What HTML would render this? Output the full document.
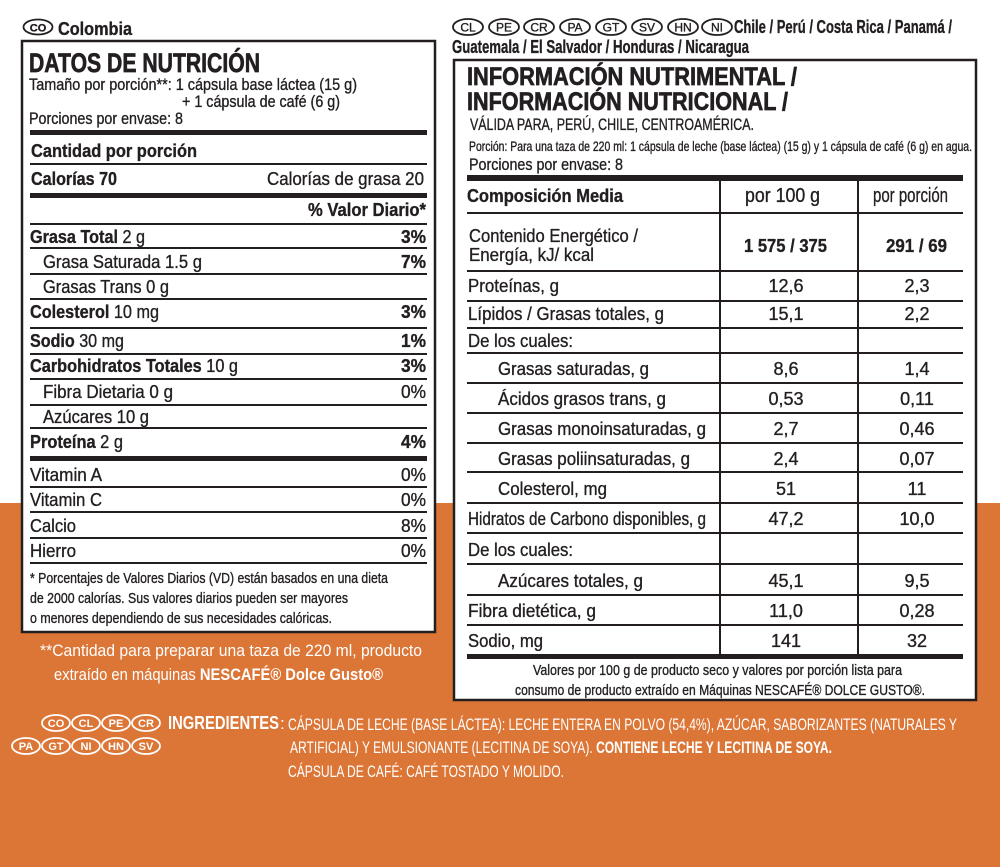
<!DOCTYPE html>
<html><head><meta charset="utf-8"><style>
html,body{margin:0;padding:0;background:#fff}
svg{display:block}
text{font-family:"Liberation Sans",sans-serif;fill:#231f20;stroke:#231f20;stroke-width:0.35}
.b{font-weight:bold}
.h{stroke-width:0.7}
.w{fill:#fff;stroke:none}
</style></head><body>
<svg width="1000" height="867" viewBox="0 0 1000 867" xmlns="http://www.w3.org/2000/svg">
<rect x="0" y="0" width="1000" height="867" fill="#fff"/>
<rect x="0" y="503" width="1000" height="364" fill="#dc7637"/>

<!-- LEFT -->
<ellipse cx="38" cy="27" rx="14.5" ry="7.5" fill="none" stroke="#231f20" stroke-width="1.8"/>
<text x="38" y="31.5" font-size="11" text-anchor="middle" class="b">CO</text>
<text x="58" y="35" font-size="18" class="b" textLength="74" lengthAdjust="spacingAndGlyphs">Colombia</text>

<rect x="22" y="41" width="413" height="591" fill="#fff" stroke="#231f20" stroke-width="2.5"/>
<text x="29" y="72" font-size="27" class="b h" textLength="231" lengthAdjust="spacingAndGlyphs">DATOS DE NUTRICIÓN</text>
<text x="29" y="90" font-size="17" textLength="328" lengthAdjust="spacingAndGlyphs">Tamaño por porción**: 1 cápsula base láctea (15 g)</text>
<text x="182" y="107" font-size="17" textLength="158" lengthAdjust="spacingAndGlyphs">+ 1 cápsula de café (6 g)</text>
<text x="29" y="124" font-size="17" textLength="154" lengthAdjust="spacingAndGlyphs">Porciones por envase: 8</text>
<rect x="30" y="130" width="397" height="5" fill="#231f20"/>
<text x="31" y="157" font-size="18" class="b" textLength="166" lengthAdjust="spacingAndGlyphs">Cantidad por porción</text>
<rect x="30" y="163" width="397" height="2" fill="#231f20"/>
<text x="31" y="185" font-size="18" class="b" textLength="86" lengthAdjust="spacingAndGlyphs">Calorías 70</text>
<text x="267" y="185" font-size="18" textLength="157" lengthAdjust="spacingAndGlyphs">Calorías de grasa 20</text>
<rect x="30" y="193" width="397" height="5" fill="#231f20"/>
<text x="308" y="216" font-size="18" class="b" textLength="118" lengthAdjust="spacingAndGlyphs">% Valor Diario*</text>
<rect x="30" y="223" width="397" height="2" fill="#231f20"/>

<text x="30" y="243" font-size="18" textLength="115" lengthAdjust="spacingAndGlyphs"><tspan class="b">Grasa Total</tspan> 2 g</text>
<text x="401" y="243" font-size="18" class="b" textLength="25" lengthAdjust="spacingAndGlyphs">3%</text>
<rect x="30" y="247" width="397" height="2" fill="#231f20"/>
<text x="43" y="268" font-size="18" textLength="159" lengthAdjust="spacingAndGlyphs">Grasa Saturada 1.5 g</text>
<text x="401" y="268" font-size="18" class="b" textLength="25" lengthAdjust="spacingAndGlyphs">7%</text>
<rect x="30" y="273" width="397" height="2" fill="#231f20"/>
<text x="43" y="293" font-size="18" textLength="126" lengthAdjust="spacingAndGlyphs">Grasas Trans 0 g</text>
<rect x="30" y="298" width="397" height="2" fill="#231f20"/>
<text x="30" y="318" font-size="18" textLength="129" lengthAdjust="spacingAndGlyphs"><tspan class="b">Colesterol</tspan> 10 mg</text>
<text x="401" y="318" font-size="18" class="b" textLength="25" lengthAdjust="spacingAndGlyphs">3%</text>
<rect x="30" y="327" width="397" height="2" fill="#231f20"/>
<text x="30" y="347" font-size="18" textLength="94" lengthAdjust="spacingAndGlyphs"><tspan class="b">Sodio</tspan> 30 mg</text>
<text x="401" y="347" font-size="18" class="b" textLength="25" lengthAdjust="spacingAndGlyphs">1%</text>
<rect x="30" y="353" width="397" height="2" fill="#231f20"/>
<text x="30" y="372" font-size="18" textLength="208" lengthAdjust="spacingAndGlyphs"><tspan class="b">Carbohidratos Totales</tspan> 10 g</text>
<text x="401" y="372" font-size="18" class="b" textLength="25" lengthAdjust="spacingAndGlyphs">3%</text>
<rect x="30" y="378" width="397" height="2" fill="#231f20"/>
<text x="43" y="398" font-size="18" textLength="130" lengthAdjust="spacingAndGlyphs">Fibra Dietaria 0 g</text>
<text x="401" y="398" font-size="18" textLength="25" lengthAdjust="spacingAndGlyphs">0%</text>
<rect x="30" y="404" width="397" height="2" fill="#231f20"/>
<text x="43" y="423" font-size="18" textLength="106" lengthAdjust="spacingAndGlyphs">Azúcares 10 g</text>
<rect x="30" y="427" width="397" height="2" fill="#231f20"/>
<text x="30" y="448" font-size="18" textLength="93" lengthAdjust="spacingAndGlyphs"><tspan class="b">Proteína</tspan> 2 g</text>
<text x="401" y="448" font-size="18" class="b" textLength="25" lengthAdjust="spacingAndGlyphs">4%</text>
<rect x="30" y="456" width="397" height="5" fill="#231f20"/>
<text x="30" y="481" font-size="18" textLength="72" lengthAdjust="spacingAndGlyphs">Vitamin A</text>
<text x="401" y="481" font-size="18" textLength="25" lengthAdjust="spacingAndGlyphs">0%</text>
<rect x="30" y="486" width="397" height="2" fill="#231f20"/>
<text x="30" y="506" font-size="18" textLength="72" lengthAdjust="spacingAndGlyphs">Vitamin C</text>
<text x="401" y="506" font-size="18" textLength="25" lengthAdjust="spacingAndGlyphs">0%</text>
<rect x="30" y="511" width="397" height="2" fill="#231f20"/>
<text x="30" y="532" font-size="18" textLength="46" lengthAdjust="spacingAndGlyphs">Calcio</text>
<text x="401" y="532" font-size="18" textLength="25" lengthAdjust="spacingAndGlyphs">8%</text>
<rect x="30" y="537" width="397" height="2" fill="#231f20"/>
<text x="30" y="557" font-size="18" textLength="46" lengthAdjust="spacingAndGlyphs">Hierro</text>
<text x="401" y="557" font-size="18" textLength="25" lengthAdjust="spacingAndGlyphs">0%</text>
<rect x="30" y="562" width="397" height="2" fill="#231f20"/>
<text x="30" y="583" font-size="15" textLength="358" lengthAdjust="spacingAndGlyphs">* Porcentajes de Valores Diarios (VD) están basados en una dieta</text>
<text x="30" y="603" font-size="15" textLength="318" lengthAdjust="spacingAndGlyphs">de 2000 calorías. Sus valores diarios pueden ser mayores</text>
<text x="30" y="623" font-size="15" textLength="302" lengthAdjust="spacingAndGlyphs">o menores dependiendo de sus necesidades calóricas.</text>

<text x="40" y="656" font-size="17" class="w" textLength="382" lengthAdjust="spacingAndGlyphs">**Cantidad para preparar una taza de 220 ml, producto</text>
<text x="54" y="680" font-size="17" class="w" textLength="329" lengthAdjust="spacingAndGlyphs">extraído en máquinas <tspan class="b">NESCAFÉ® Dolce Gusto®</tspan></text>

<!-- RIGHT -->
<g fill="none" stroke="#231f20" stroke-width="1.8">
<ellipse cx="468" cy="27" rx="15" ry="8"/><ellipse cx="504" cy="27" rx="15" ry="8"/>
<ellipse cx="539" cy="27" rx="15" ry="8"/><ellipse cx="575" cy="27" rx="15" ry="8"/>
<ellipse cx="611" cy="27" rx="15" ry="8"/><ellipse cx="647" cy="27" rx="15" ry="8"/>
<ellipse cx="683" cy="27" rx="15" ry="8"/><ellipse cx="717" cy="27" rx="15" ry="8"/>
</g>
<g font-size="12" text-anchor="middle">
<text x="468" y="31.5">CL</text><text x="504" y="31.5">PE</text><text x="539" y="31.5">CR</text><text x="575" y="31.5">PA</text>
<text x="611" y="31.5">GT</text><text x="647" y="31.5">SV</text><text x="683" y="31.5">HN</text><text x="717" y="31.5">NI</text>
</g>
<text x="734" y="33" font-size="18" class="b" textLength="218" lengthAdjust="spacingAndGlyphs">Chile / Perú / Costa Rica / Panamá /</text>
<text x="452" y="53" font-size="18" class="b" textLength="297" lengthAdjust="spacingAndGlyphs">Guatemala / El Salvador / Honduras / Nicaragua</text>

<rect x="454" y="60" width="522" height="640" fill="#fff" stroke="#231f20" stroke-width="2.5"/>
<text x="467" y="85" font-size="25" class="b h" textLength="330" lengthAdjust="spacingAndGlyphs">INFORMACIÓN NUTRIMENTAL /</text>
<text x="467" y="110" font-size="25" class="b h" textLength="321" lengthAdjust="spacingAndGlyphs">INFORMACIÓN NUTRICIONAL /</text>
<text x="470" y="130" font-size="17" textLength="284" lengthAdjust="spacingAndGlyphs">VÁLIDA PARA, PERÚ, CHILE, CENTROAMÉRICA.</text>
<text x="469" y="151" font-size="14" textLength="503" lengthAdjust="spacingAndGlyphs">Porción: Para una taza de 220 ml: 1 cápsula de leche (base láctea) (15 g) y 1 cápsula de café (6 g) en agua.</text>
<text x="469" y="170" font-size="17" textLength="154" lengthAdjust="spacingAndGlyphs">Porciones por envase: 8</text>
<rect x="467" y="175" width="496" height="6" fill="#231f20"/>
<rect x="719" y="181" width="2" height="474" fill="#231f20"/>
<rect x="857" y="181" width="2" height="474" fill="#231f20"/>
<text x="467" y="202" font-size="18" class="b" textLength="156" lengthAdjust="spacingAndGlyphs">Composición Media</text>
<text x="745" y="202" font-size="20" textLength="75" lengthAdjust="spacingAndGlyphs">por 100 g</text>
<text x="873" y="202" font-size="20" textLength="75" lengthAdjust="spacingAndGlyphs">por porción</text>
<rect x="467" y="212" width="496" height="2" fill="#231f20"/>
<text x="469" y="242" font-size="18" textLength="169" lengthAdjust="spacingAndGlyphs">Contenido Energético /</text>
<text x="469" y="261" font-size="18" textLength="125" lengthAdjust="spacingAndGlyphs">Energía, kJ/ kcal</text>
<text x="744" y="252" font-size="18" class="b" textLength="83" lengthAdjust="spacingAndGlyphs">1 575 / 375</text>
<text x="886" y="252" font-size="18" class="b" textLength="61" lengthAdjust="spacingAndGlyphs">291 / 69</text>
<g fill="#231f20">
<rect x="467" y="270" width="496" height="2"/><rect x="467" y="300" width="496" height="2"/>
<rect x="467" y="327" width="496" height="2"/><rect x="467" y="352" width="496" height="2"/>
<rect x="467" y="382" width="496" height="2"/><rect x="467" y="412" width="496" height="2"/>
<rect x="467" y="442" width="496" height="2"/><rect x="467" y="471" width="496" height="2"/>
<rect x="467" y="502" width="496" height="2"/><rect x="467" y="532" width="496" height="2"/>
<rect x="467" y="563" width="496" height="2"/><rect x="467" y="594" width="496" height="2"/>
<rect x="467" y="624" width="496" height="2"/><rect x="467" y="654" width="496" height="5"/>
</g>
<g font-size="18">
<text x="468" y="292" textLength="91" lengthAdjust="spacingAndGlyphs">Proteínas, g</text>
<text x="468" y="320" textLength="196" lengthAdjust="spacingAndGlyphs">Lípidos / Grasas totales, g</text>
<text x="468" y="347" textLength="105" lengthAdjust="spacingAndGlyphs">De los cuales:</text>
<text x="498" y="375" textLength="151" lengthAdjust="spacingAndGlyphs">Grasas saturadas, g</text>
<text x="498" y="405" textLength="168" lengthAdjust="spacingAndGlyphs">Ácidos grasos trans, g</text>
<text x="498" y="435" textLength="208" lengthAdjust="spacingAndGlyphs">Grasas monoinsaturadas, g</text>
<text x="498" y="465" textLength="192" lengthAdjust="spacingAndGlyphs">Grasas poliinsaturadas, g</text>
<text x="498" y="495" textLength="109" lengthAdjust="spacingAndGlyphs">Colesterol, mg</text>
<text x="468" y="525" textLength="238" lengthAdjust="spacingAndGlyphs">Hidratos de Carbono disponibles, g</text>
<text x="468" y="556" textLength="105" lengthAdjust="spacingAndGlyphs">De los cuales:</text>
<text x="498" y="587" textLength="145" lengthAdjust="spacingAndGlyphs">Azúcares totales, g</text>
<text x="468" y="617" textLength="128" lengthAdjust="spacingAndGlyphs">Fibra dietética, g</text>
<text x="468" y="647" textLength="75" lengthAdjust="spacingAndGlyphs">Sodio, mg</text>
</g>
<g font-size="18" text-anchor="middle">
<text x="786" y="292">12,6</text><text x="917" y="292">2,3</text>
<text x="786" y="320">15,1</text><text x="917" y="320">2,2</text>
<text x="786" y="375">8,6</text><text x="917" y="375">1,4</text>
<text x="786" y="405">0,53</text><text x="917" y="405">0,11</text>
<text x="786" y="435">2,7</text><text x="917" y="435">0,46</text>
<text x="786" y="465">2,4</text><text x="917" y="465">0,07</text>
<text x="786" y="495">51</text><text x="917" y="495">11</text>
<text x="786" y="525">47,2</text><text x="917" y="525">10,0</text>
<text x="786" y="587">45,1</text><text x="917" y="587">9,5</text>
<text x="786" y="617">11,0</text><text x="917" y="617">0,28</text>
<text x="786" y="647">141</text><text x="917" y="647">32</text>
</g>
<text x="533" y="675" font-size="15" textLength="369" lengthAdjust="spacingAndGlyphs">Valores por 100 g de producto seco y valores por porción lista para</text>
<text x="515" y="695" font-size="15" textLength="410" lengthAdjust="spacingAndGlyphs">consumo de producto extraído en Máquinas NESCAFÉ® DOLCE GUSTO®.</text>

<!-- INGREDIENTS -->
<g fill="none" stroke="#fff" stroke-width="1.8">
<ellipse cx="56" cy="723" rx="14" ry="8"/><ellipse cx="86" cy="723" rx="14" ry="8"/>
<ellipse cx="116" cy="723" rx="14" ry="8"/><ellipse cx="146" cy="723" rx="14" ry="8"/>
<ellipse cx="26" cy="746" rx="14" ry="8"/><ellipse cx="56" cy="746" rx="14" ry="8"/>
<ellipse cx="86" cy="746" rx="14" ry="8"/><ellipse cx="116" cy="746" rx="14" ry="8"/>
<ellipse cx="146" cy="746" rx="14" ry="8"/>
</g>
<g font-size="11" text-anchor="middle" class="b">
<text x="56" y="727" class="w">CO</text><text x="86" y="727" class="w">CL</text><text x="116" y="727" class="w">PE</text><text x="146" y="727" class="w">CR</text>
<text x="26" y="750" class="w">PA</text><text x="56" y="750" class="w">GT</text><text x="86" y="750" class="w">NI</text><text x="116" y="750" class="w">HN</text><text x="146" y="750" class="w">SV</text>
</g>
<text x="168" y="729" font-size="18" class="w b" textLength="111" lengthAdjust="spacingAndGlyphs">INGREDIENTES</text>
<text x="280" y="729" font-size="17" class="w">:</text>
<text x="288" y="730" font-size="17" class="w" textLength="669" lengthAdjust="spacingAndGlyphs">CÁPSULA DE LECHE (BASE LÁCTEA): LECHE ENTERA EN POLVO (54,4%), AZÚCAR, SABORIZANTES (NATURALES Y</text>
<text x="290" y="753" font-size="17" class="w" textLength="542" lengthAdjust="spacingAndGlyphs">ARTIFICIAL) Y EMULSIONANTE (LECITINA DE SOYA). <tspan class="b">CONTIENE LECHE Y LECITINA DE SOYA.</tspan></text>
<text x="288" y="777" font-size="17" class="w" textLength="276" lengthAdjust="spacingAndGlyphs">CÁPSULA DE CAFÉ: CAFÉ TOSTADO Y MOLIDO.</text>
</svg>
</body></html>
